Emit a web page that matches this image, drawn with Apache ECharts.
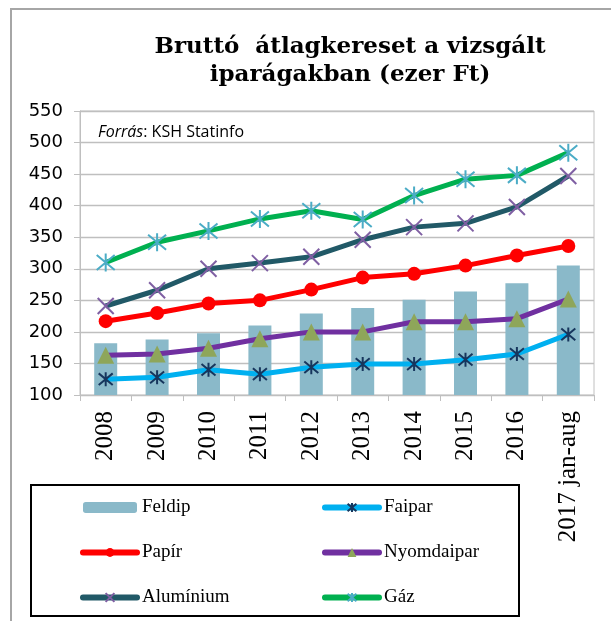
<!DOCTYPE html>
<html>
<head>
<meta charset="utf-8">
<script src="https://cdn.jsdelivr.net/npm/echarts@6/dist/echarts.min.js"></script>
<style>html,body{margin:0;padding:0;background:#fff;}#c{width:611px;height:621px;}</style>
</head>
<body>
<div id="c"></div>
<script>
const categories = ['2008','2009','2010','2011','2012','2013','2014','2015','2016','2017 jan-aug'];
const feldip = [182, 188, 198, 210, 229, 238, 251, 264, 277, 305];
const faipar = [125, 128, 140, 133, 144, 149, 149, 156, 165, 196];
const papir  = [217, 230, 245, 250, 267, 286, 292, 305, 321, 336];
const nyomdaipar = [163, 165, 174, 189, 200, 200, 216, 216, 221, 252];
const aluminium = [241, 266, 300, 309, 319, 346, 366, 372, 398, 447];
const gaz = [310, 342, 360, 379, 392, 378, 416, 442, 448, 484];
const yMin = 100, yMax = 550, yStep = 50;

const ASTER = 'path://M0,1L10,11M10,1L0,11M5,0L5,12';
const XMARK = 'path://M0,0L10,10M10,0L0,10';

const chart = echarts.init(document.getElementById('c'), null, {renderer: 'canvas'});

function lineSeries(name, data, lineColor, symbol, symbolSize, markColor, stroke) {
  return {
    name, type: 'line', data,
    symbol, symbolSize,
    lineStyle: {color: lineColor, width: 5},
    itemStyle: stroke
      ? {color: markColor, borderColor: markColor, borderWidth: 2}
      : {color: markColor, borderWidth: 0},
    z: 3
  };
}

const legendCommon = {
  orient: 'vertical', top: 498, padding: 0, itemWidth: 54, itemHeight: 11, itemGap: 26,
  textStyle: {fontFamily: 'Liberation Serif', fontSize: 19, color: '#000', lineHeight: 18},
  lineStyle: {width: 6, cap: 'round'}
};

chart.setOption({
  animation: false,
  title: [
    {
      text: 'Bruttó  átlagkereset a vizsgált\niparágakban (ezer Ft)',
      left: 345, top: 28, textAlign: 'center',
      textStyle: {fontFamily: 'DejaVu Serif', fontWeight: 'bold', fontSize: 23, lineHeight: 28, color: '#000'}
    },
    {
      text: '{i|Forrás}{n|: KSH Statinfo}',
      left: 93, top: 119,
      textStyle: {
        fontWeight: 'normal',
        rich: {
          i: {fontFamily: 'Open Sans', fontStyle: 'italic', fontWeight: 'normal', fontSize: 16, color: '#000'},
          n: {fontFamily: 'Open Sans', fontWeight: 'normal', fontSize: 16, color: '#000'}
        }
      }
    }
  ],
  graphic: [
    {type: 'rect', shape: {x: 11, y: 9, width: 640, height: 640}, style: {fill: 'none', stroke: '#A6A6A6', lineWidth: 2}, silent: true},
    {type: 'rect', shape: {x: 31, y: 485, width: 488, height: 131}, style: {fill: 'none', stroke: '#000', lineWidth: 2}, silent: true}
  ],
  grid: {left: 80, right: 17, top: 111, bottom: 226, show: true, borderColor: '#C0C0C0', borderWidth: 1},
  xAxis: {
    type: 'category', data: categories,
    axisLine: {lineStyle: {color: '#BFBFBF', width: 1}},
    axisTick: {show: true, length: 6, lineStyle: {color: '#BFBFBF'}},
    axisLabel: {rotate: 90, margin: 16, fontFamily: 'Liberation Serif', fontSize: 25, color: '#000', interval: 0}
  },
  yAxis: {
    type: 'value', min: yMin, max: yMax, interval: yStep,
    axisLine: {show: true, lineStyle: {color: '#BFBFBF'}},
    axisTick: {show: true, length: 6, lineStyle: {color: '#BFBFBF'}},
    splitLine: {lineStyle: {color: '#BFBFBF', width: 1.3}},
    axisLabel: {margin: 17, fontFamily: 'DejaVu Sans', fontSize: 18, color: '#000'}
  },
  legend: [
    Object.assign({left: 80, data: ['Feldip', 'Papír', 'Alumínium']}, legendCommon),
    Object.assign({left: 322, data: ['Faipar', 'Nyomdaipar', 'Gáz']}, legendCommon)
  ],
  series: [
    {name: 'Feldip', type: 'bar', data: feldip, barWidth: 23, itemStyle: {color: '#8AB9C9'}, z: 1},
    lineSeries('Faipar', faipar, '#00B0F0', ASTER, 14, '#17365D', true),
    lineSeries('Papír', papir, '#FF0000', 'circle', 14, '#FF0000', false),
    lineSeries('Nyomdaipar', nyomdaipar, '#7030A0', 'triangle', 17, '#8EA65A', false),
    lineSeries('Alumínium', aluminium, '#215967', XMARK, 16, '#7F5FA3', true),
    lineSeries('Gáz', gaz, '#00B050', ASTER, 18, '#4BACC6', true)
  ]
});
</script>
</body>
</html>
